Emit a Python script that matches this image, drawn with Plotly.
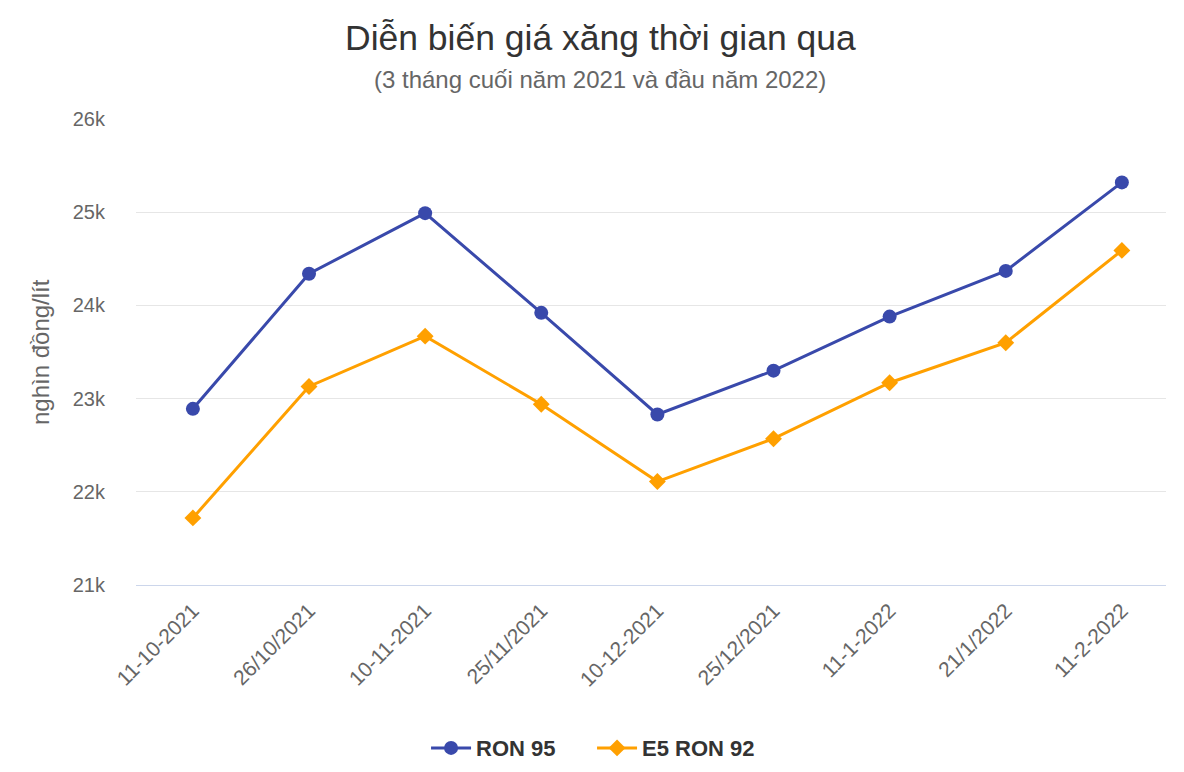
import plotly.graph_objects as go

dates = ["11-10-2021", "26/10/2021", "10-11-2021", "25/11/2021", "10-12-2021",
         "25/12/2021", "11-1-2022", "21/1/2022", "11-2-2022"]
ron95 = [22890, 24340, 24990, 23920, 22830, 23300, 23880, 24370, 25320]
e5ron92 = [21720, 23130, 23670, 22940, 22110, 22570, 23170, 23600, 24590]
y_ticks = [21000, 22000, 23000, 24000, 25000, 26000]
y_tick_labels = ["21k", "22k", "23k", "24k", "25k", "26k"]

FONT = "Liberation Sans, Arial, sans-serif"

fig = go.Figure()
fig.add_trace(go.Scatter(
    x=list(range(len(dates))), y=ron95, name="RON 95", mode="lines+markers",
    line=dict(color="#3949ab", width=3),
    marker=dict(symbol="circle", size=14, color="#3949ab"),
))
fig.add_trace(go.Scatter(
    x=list(range(len(dates))), y=e5ron92, name="E5 RON 92", mode="lines+markers",
    line=dict(color="#ffa000", width=3),
    marker=dict(symbol="diamond", size=13, color="#ffa000"),
))

fig.update_layout(
    width=1184, height=772,
    margin=dict(l=136, r=18, t=119, b=187, autoexpand=False),
    paper_bgcolor="white", plot_bgcolor="white",
    font=dict(family=FONT, color="#666666", size=19),
    showlegend=True,
    legend=dict(orientation="h", x=0.2816, xanchor="left", y=-0.35, yanchor="middle",
                font=dict(size=22, color="#333333", family=FONT, weight="bold"),
                itemwidth=40, tracegroupgap=0, entrywidth=111),
    xaxis=dict(
        range=[-0.49, 8.38], tickmode="array", tickvals=list(range(len(dates))),
        ticktext=dates, tickangle=-45, showgrid=False, zeroline=False,
        showline=True, linecolor="#ccd6eb", linewidth=1, automargin=False,
        ticks="outside", ticklen=4, tickcolor="rgba(0,0,0,0)",
        tickfont=dict(size=21, color="#666666"),
    ),
    yaxis=dict(
        range=[21000, 26000], tickmode="array", tickvals=y_ticks, ticktext=y_tick_labels,
        showgrid=True, gridcolor="#e6e6e6", gridwidth=1, zeroline=False,
        showline=False, ticklabelstandoff=30, automargin=False,
        tickfont=dict(size=20, color="#666666"),
    ),
    annotations=[
        dict(text="Diễn biến giá xăng thời gian qua", xref="paper", yref="paper",
             x=0.4505, y=1.174, xanchor="center", yanchor="middle", showarrow=False,
             font=dict(size=35.5, color="#333333", family=FONT)),
        dict(text="(3 tháng cuối năm 2021 và đầu năm 2022)", xref="paper", yref="paper",
             x=0.4505, y=1.0837, xanchor="center", yanchor="middle", showarrow=False,
             font=dict(size=24, color="#666666", family=FONT)),
        dict(text="nghìn đồng/lít", xref="paper", yref="paper",
             x=-0.0932, y=0.5, xanchor="center", yanchor="middle", showarrow=False,
             textangle=-90, font=dict(size=24, color="#666666", family=FONT)),
    ],
)

fig.write_html("out.html")
